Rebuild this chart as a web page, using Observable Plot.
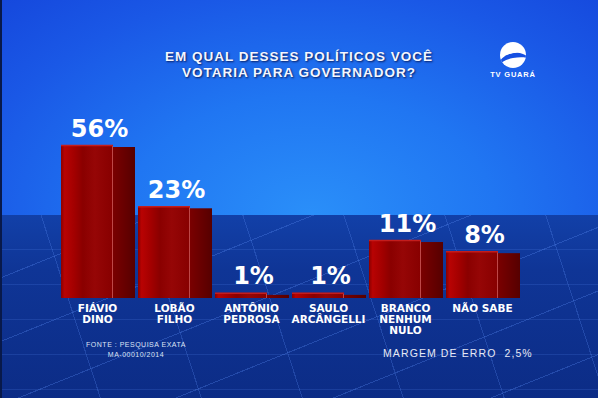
<!DOCTYPE html>
<html><head><meta charset="utf-8">
<script src="https://cdn.jsdelivr.net/npm/d3@7"></script>
<script src="https://cdn.jsdelivr.net/npm/@observablehq/plot@0.6"></script>
<style>
html,body{margin:0;padding:0;background:#0b2a80;}
#stage{position:relative;width:598px;height:398px;overflow:hidden;font-family:"Liberation Sans",Arial,sans-serif;}
.sky{position:absolute;left:0;top:0;width:598px;height:215px;
 background:radial-gradient(ellipse 460px 300px at 52% 100%, #2a8ff9 0%, #2076f2 40%, #1a58e6 75%, #1547dc 100%);}
.floor{position:absolute;left:0;top:215px;width:598px;height:183px;background:
 repeating-linear-gradient(158deg, transparent 0 58px, rgba(90,140,245,.30) 58px 59px),
 repeating-linear-gradient(72deg, transparent 0 95px, rgba(90,140,245,.26) 95px 96px),
 repeating-linear-gradient(180deg, transparent 0 34px, rgba(90,140,245,.18) 34px 35px),
 linear-gradient(180deg,#1240a8 0%, #0f3596 30%, #0c2c86 100%);}
.edgeL{position:absolute;left:0;top:0;width:2px;height:398px;background:#08194a;}
#chart{position:absolute;left:0;top:0;}
.title{position:absolute;left:0;top:49px;width:598px;text-align:center;color:#f4f6ff;font-weight:bold;font-size:13.5px;line-height:16px;letter-spacing:1px;text-shadow:1px 1px 2px rgba(0,10,60,.8);}
.fonte{position:absolute;left:36px;width:200px;top:340px;text-align:center;font-size:7px;line-height:10px;letter-spacing:.5px;color:#dde3f5;}
.margem{position:absolute;left:383px;top:347px;font-size:10.5px;line-height:13px;letter-spacing:1.1px;color:#e6e9f5;white-space:pre;}
.disc{position:absolute;left:500px;top:42px;width:26px;height:26px;border-radius:50%;background:#fff;overflow:hidden;}
.swoosh{position:absolute;left:-1px;top:11px;width:30px;height:20px;border-radius:50%;border-top:5px solid #1650e2;transform:rotate(-12deg);box-sizing:border-box;}
.logotext{position:absolute;left:470px;width:86px;top:70px;text-align:center;font-weight:bold;font-size:7.5px;line-height:9px;letter-spacing:.8px;color:#fff;}
g[aria-label="values"]{filter:url(#ts);}
g[aria-label="values"] text{letter-spacing:2.5px;}
g[aria-label="names"]{filter:url(#ts);}
</style>
</head><body>
<svg width="0" height="0" style="position:absolute">
 <defs>
  <linearGradient id="frontGrad" x1="0" x2="1" y1="0" y2="0">
   <stop offset="0" stop-color="#8a0000"/>
   <stop offset="0.07" stop-color="#b80303"/>
   <stop offset="0.25" stop-color="#a30000"/>
   <stop offset="0.42" stop-color="#8a0000"/>
   <stop offset="0.65" stop-color="#960606"/>
   <stop offset="1" stop-color="#870000"/>
  </linearGradient>
  <linearGradient id="sideGrad" x1="0" x2="1" y1="0" y2="0">
   <stop offset="0" stop-color="#7a0000"/>
   <stop offset="1" stop-color="#560000"/>
  </linearGradient>
  <filter id="ts" x="-20%" y="-20%" width="140%" height="140%">
   <feDropShadow dx="1" dy="1" stdDeviation="0.8" flood-color="#000a3a" flood-opacity="0.7"/>
  </filter>
 </defs>
</svg>
<div id="stage">
 <div class="sky"></div>
 <div class="floor"></div>
 <div class="edgeL"></div>
 <div id="chart"></div>
 <div class="title">EM QUAL DESSES POLÍTICOS VOCÊ<br>VOTARIA PARA GOVERNADOR?</div>
 <div class="disc"><div class="swoosh"></div></div>
 <div class="logotext">TV GUARÁ</div>
 <div class="fonte">FONTE : PESQUISA EXATA<br>MA-00010/2014</div>
 <div class="margem">MARGEM DE ERRO  2,5%</div>
</div>
<script>
const candidates = ["FIÁVIO\nDINO", "LOBÃO\nFILHO", "ANTÔNIO\nPEDROSA", "SAULO\nARCÂNGELLI", "BRANCO\nNENHUM\nNULO", "NÃO SABE"];
const percents = [56, 23, 1, 1, 11, 8];
const valueLabels = ["56%", "23%", "1%", "1%", "11%", "8%"];

const data = candidates.map((c, i) => ({name: c, value: percents[i], label: valueLabels[i]}));
const base = 0.6;

const plot = Plot.plot({
  width: 598, height: 398,
  marginTop: 0, marginBottom: 0, marginLeft: 0, marginRight: 0,
  style: {background: "transparent", overflow: "visible"},
  x: {domain: candidates, range: [56, 524], padding: 0.04, axis: null},
  y: {type: "sqrt", domain: [base, 56], range: [298, 145], axis: null},
  marks: [
    Plot.barY(data, {x: "name", y1: base, y2: "value", fill: "url(#sideGrad)", insetLeft: 52, insetTop: 2}),
    Plot.barY(data, {x: "name", y1: base, y2: "value", fill: "url(#frontGrad)", insetRight: 22}),
    Plot.barY(data, {x: "name", y1: base, y2: "value", fill: "#cc5a5a", fillOpacity: 0.8, insetLeft: 51, insetRight: 22, insetTop: 1}),
    Plot.tickY(data, {x: "name", y: "value", insetRight: 22, stroke: "#c41d1d", strokeWidth: 1.5}),
    Plot.text(data, {x: "name", y: "value", text: "label", lineAnchor: "bottom", dy: -9, dx: 1, fill: "white",
      fontSize: 24, fontWeight: "bold", fontFamily: "DejaVu Sans", ariaLabel: "values"}),
    Plot.text(data, {x: "name", y: base, text: "name", lineAnchor: "top", dy: 5, dx: -1, fill: "white",
      fontSize: 10.5, fontWeight: "bold", fontFamily: "DejaVu Sans", lineHeight: 1.08, ariaLabel: "names"})
  ]
});
document.getElementById("chart").appendChild(plot);
</script>
</body></html>
